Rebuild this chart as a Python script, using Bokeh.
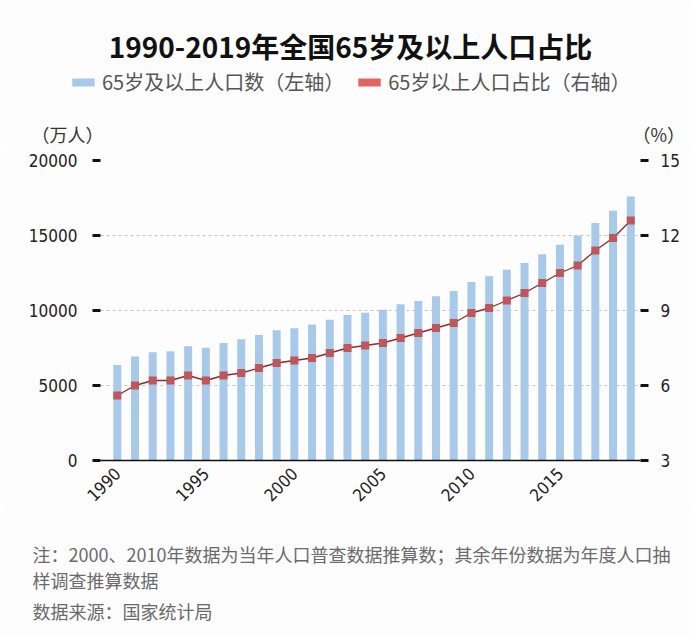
import math
from bokeh.plotting import figure
from bokeh.layouts import column
from bokeh.models import (Range1d, LinearAxis, FixedTicker, Label, Legend, LegendItem)
from bokeh.embed import file_html
from bokeh.resources import INLINE

years = list(range(1990, 2020))
pop_65 = [6368, 6938, 7218, 7289, 7622, 7510, 7833, 8085, 8359, 8679,
          8821, 9062, 9377, 9692, 9857, 10055, 10419, 10636, 10956, 11307,
          11894, 12288, 12714, 13161, 13755, 14386, 15003, 15831, 16658, 17603]
pct_65 = [5.6, 6.0, 6.2, 6.2, 6.4, 6.2, 6.4, 6.5, 6.7, 6.9,
          7.0, 7.1, 7.3, 7.5, 7.6, 7.7, 7.9, 8.1, 8.3, 8.5,
          8.9, 9.1, 9.4, 9.7, 10.1, 10.5, 10.8, 11.4, 11.9, 12.6]
x_ticks = [1990, 1995, 2000, 2005, 2010, 2015]
left_ticks = [0, 5000, 10000, 15000, 20000]
right_ticks = [3, 6, 9, 12, 15]

title_text = "1990-2019年全国65岁及以上人口占比"
legend_bar = "65岁及以上人口数（左轴）"
legend_line = "65岁以上人口占比（右轴）"
unit_left = "（万人）"
unit_right = "（%）"
note1 = "注：2000、2010年数据为当年人口普查数据推算数；其余年份数据为年度人口抽"
note2 = "样调查推算数据"
source = "数据来源：国家统计局"

CJK = "Noto Sans CJK SC"
NUM = "DejaVu Sans Condensed, Roboto"
BG = "#fdfdfd"
W = 692
H_TOP, H_MAIN, H_BOT = 148, 362, 124
BLUE = "#a7c9ea"
RED_KEY = "#e06464"


def blank(h):
    f = figure(width=W, height=h, output_backend="svg", toolbar_location=None,
               x_range=Range1d(0, W), y_range=Range1d(h, 0),
               x_axis_type=None, y_axis_type=None,
               min_border_left=0, min_border_right=0, min_border_top=0,
               min_border_bottom=0, background_fill_color=BG,
               border_fill_color=BG, outline_line_color=None)
    f.frame_align = False
    f.xgrid.visible = False
    f.ygrid.visible = False
    return f


def lab(f, text, x, y, size, color, align="left", style="normal"):
    f.add_layout(Label(x=x, y=y, text=text, text_font=CJK, text_font_size=size,
                       text_color=color, text_align=align,
                       text_baseline="middle", text_font_style=style))


# ---------- top: title, legend, axis units ----------
top = blank(H_TOP)
lab(top, title_text, 350, 45, "28px", "#111111", align="center", style="bold")
lab(top, unit_left, 31, 133, "18px", "#333333")
lab(top, unit_right, 632, 133, "18px", "#333333")
# legend keys: zero-size bars that only carry the key colours
k_blue = top.vbar(x=[0], top=[0], bottom=[0], width=0, fill_color=BLUE, line_color=None)
k_red = top.vbar(x=[0], top=[0], bottom=[0], width=0, fill_color=RED_KEY, line_color=None)
legend = Legend(items=[LegendItem(label=legend_bar, renderers=[k_blue]),
                       LegendItem(label=legend_line, renderers=[k_red])],
                orientation="horizontal", location=(69, H_TOP - 96),
                glyph_width=28, glyph_height=10, label_height=24,
                label_standoff=5, spacing=11, padding=0, margin=0,
                border_line_color=None, background_fill_alpha=0,
                label_text_font=CJK, label_text_font_size="20px",
                label_text_color="#555555")
top.add_layout(legend, "center")

# ---------- main chart ----------
p = figure(width=W, height=H_MAIN, output_backend="svg", toolbar_location=None,
           x_range=Range1d(1989.05, 2019.55), y_range=Range1d(0, 20000),
           min_border_left=100, min_border_right=52, min_border_top=12,
           min_border_bottom=45, background_fill_color=BG, border_fill_color=BG,
           outline_line_color=None)
p.frame_align = False
p.extra_y_ranges = {"pct": Range1d(3, 15)}

p.vbar(x=years, top=pop_65, width=0.45, fill_color=BLUE, line_color=None)
p.line(years, pct_65, y_range_name="pct", line_color="#8e2a2a", line_width=1.3)
p.scatter(years, pct_65, y_range_name="pct", marker="square", size=8,
          fill_color="#c0565a", line_color=None)

xa = p.xaxis[0]
xa.ticker = FixedTicker(ticks=x_ticks)
xa.major_label_orientation = math.pi / 4
xa.major_tick_line_color = None
xa.minor_tick_line_color = None
xa.axis_line_color = "#111111"
xa.axis_line_width = 1.5
xa.major_label_text_font = NUM
xa.major_label_text_font_size = "17px"
xa.major_label_text_color = "#222222"
xa.major_label_standoff = 4

ya = p.yaxis[0]
ya.ticker = FixedTicker(ticks=left_ticks)
ya.axis_line_color = None
ya.minor_tick_line_color = None
ya.major_tick_in = 0
ya.major_tick_out = 8
ya.major_tick_line_width = 3
ya.major_tick_line_color = "#111111"
ya.major_label_text_font = NUM
ya.major_label_text_font_size = "17px"
ya.major_label_text_color = "#222222"
ya.major_label_standoff = 15

ra = LinearAxis(y_range_name="pct", ticker=FixedTicker(ticks=right_ticks))
ra.axis_line_color = None
ra.minor_tick_line_color = None
ra.major_tick_in = 0
ra.major_tick_out = 8
ra.major_tick_line_width = 3
ra.major_tick_line_color = "#111111"
ra.major_label_text_font = NUM
ra.major_label_text_font_size = "17px"
ra.major_label_text_color = "#222222"
ra.major_label_standoff = 12
p.add_layout(ra, "right")

p.xgrid.grid_line_color = None
p.ygrid.ticker = FixedTicker(ticks=left_ticks[1:])
p.ygrid.grid_line_color = "#c4c4c4"
p.ygrid.grid_line_dash = "3 3"
p.ygrid.grid_line_width = 1

# ---------- bottom: notes ----------
bot = blank(H_BOT)
lab(bot, note1, 32, 43, "18px", "#6a6a6a")
lab(bot, note2, 32, 69, "18px", "#6a6a6a")
lab(bot, source, 32, 100, "18px", "#6a6a6a")

layout = column(top, p, bot, spacing=0)
open("out.html", "w").write(file_html(layout, INLINE))
